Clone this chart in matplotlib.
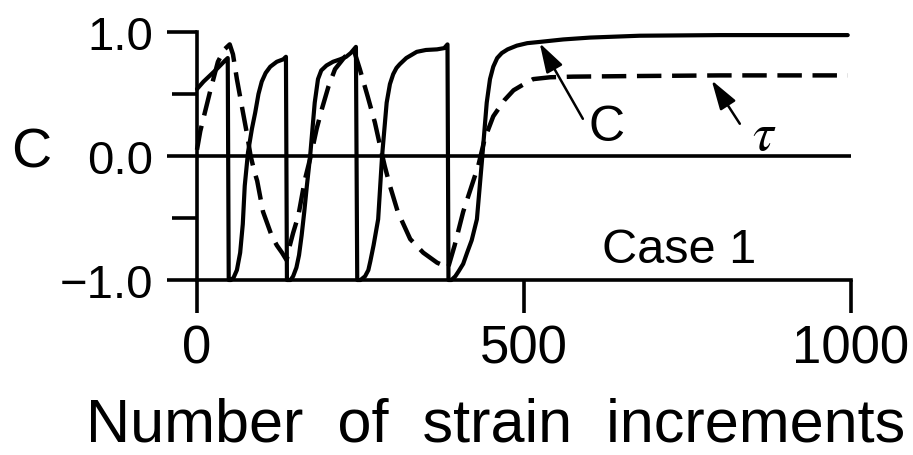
import matplotlib
matplotlib.use("Agg")
import matplotlib.pyplot as plt
from matplotlib import font_manager

# Stress-like response C and shear stress tau versus strain increments (Case 1)
c_x = [0, 10, 20, 30, 43, 47, 48.5, 52, 56, 61, 66, 70, 73, 78, 84, 89, 94,
       99, 105, 112, 122, 132, 136,
       137.5, 143, 147, 152, 156, 160, 164, 168, 173, 180, 185, 190, 198, 208,
       219, 228, 235, 243,
       245, 250, 257, 262, 265, 270, 277, 283, 290, 295, 300, 305, 310, 320,
       336, 350, 367, 378, 383,
       384.5, 389, 395, 400, 407, 413, 420, 428, 436, 443, 448, 453, 459, 466,
       475, 489, 505, 524, 560, 601, 677, 800, 995]
c_y = [0.54, 0.60, 0.65, 0.70, 0.77, 0.79, -1.0, -1.0, -0.98, -0.92, -0.78,
       -0.55, -0.24, 0.03, 0.22, 0.35, 0.50, 0.60, 0.67, 0.72, 0.76, 0.78,
       0.80,
       -1.0, -1.0, -0.97, -0.90, -0.80, -0.64, -0.45, -0.24, 0.0, 0.43, 0.62,
       0.69, 0.73, 0.76, 0.78, 0.80, 0.83, 0.88,
       -1.0, -1.0, -0.97, -0.92, -0.85, -0.72, -0.51, 0.0, 0.43, 0.58, 0.66,
       0.71, 0.74, 0.79, 0.84, 0.855, 0.86, 0.87, 0.90,
       -1.0, -1.0, -0.97, -0.93, -0.87, -0.78, -0.68, -0.51, -0.02, 0.43,
       0.62, 0.72, 0.79, 0.83, 0.86, 0.89, 0.91, 0.92, 0.94, 0.955, 0.97,
       0.975, 0.975]

tau_x = [0, 5, 12, 20, 32, 42, 50, 55, 61, 70, 76, 82, 88, 92, 101, 114, 122,
         130, 137, 142, 147, 155, 165, 174, 183, 191, 201, 211, 226, 240, 249,
         261, 272, 280, 287, 295, 307, 326, 346, 367, 384, 394, 407, 420, 430,
         440, 453, 470, 484, 500, 514, 540, 575, 673, 800, 995]
tau_y = [0.05, 0.20, 0.35, 0.52, 0.76, 0.86, 0.90, 0.82, 0.62, 0.36, 0.19,
         0.0, -0.13, -0.20, -0.45, -0.64, -0.72, -0.78, -0.84, -0.72, -0.62,
         -0.48, -0.19, 0.0, 0.22, 0.38, 0.56, 0.70, 0.80, 0.85, 0.70, 0.48,
         0.27, 0.08, -0.08, -0.24, -0.45, -0.67, -0.78, -0.86, -0.90, -0.72,
         -0.45, -0.24, -0.08, 0.14, 0.32, 0.45, 0.53, 0.58, 0.62, 0.635, 0.64,
         0.645, 0.65, 0.65]

x_ticks = [0, 500, 1000]
x_tick_labels = ["0", "500", "1000"]
y_ticks = [-1.0, 0.0, 1.0]
y_tick_labels = ["\u22121.0", "0.0", "1.0"]
y_minor_ticks = [-0.5, 0.5]


def pick(*names):
    for n in names:
        try:
            font_manager.findfont(n, fallback_to_default=False)
            return n
        except ValueError:
            pass
    return "DejaVu Sans"


sans = pick("Liberation Sans", "Arial", "DejaVu Sans")

plt.rcParams["font.family"] = [sans, "DejaVu Sans"]

LW = 2.6
fig = plt.figure(figsize=(9.13, 4.56), dpi=100)
ax = fig.add_axes([197 / 913, 175 / 456, 654 / 913, 248 / 456])

ax.plot(c_x, c_y, color="k", lw=3.0, solid_joinstyle="round",
        solid_capstyle="round", clip_on=False)
ax.plot(tau_x, tau_y, color="k", lw=3.2, linestyle=(0, (5.5, 2.4)),
        dash_capstyle="butt", clip_on=False)
ax.axhline(0.0, color="k", lw=LW)

ax.set_xlim(0, 1000)
ax.set_ylim(-1, 1)

for side in ("top", "right"):
    ax.spines[side].set_visible(False)
for side in ("left", "bottom"):
    ax.spines[side].set_linewidth(LW)

ax.set_xticks(x_ticks)
ax.set_xticklabels(x_tick_labels, fontsize=38)
ax.set_yticks(y_ticks)
ax.set_yticklabels(y_tick_labels, fontsize=34)
ax.set_yticks(y_minor_ticks, minor=True)
ax.tick_params(axis="x", direction="out", length=24, width=LW, pad=7)
ax.tick_params(axis="y", which="major", direction="out", length=21.5,
               width=LW, pad=10)
ax.tick_params(axis="y", which="minor", direction="out", length=18, width=LW)

# axis titles
fig.text(31 / 913, 1 - 153 / 456, "C", fontsize=40, ha="center", va="center")
fig.text(496 / 913, (456 - 442) / 456, "Number  of  strain  increments",
         fontsize=44, ha="center", va="baseline")

# curve labels with pointers
arrow = dict(arrowstyle="-|>,head_length=0.9,head_width=0.28", lw=1.8,
             color="k", mutation_scale=20, shrinkA=0, shrinkB=0)
ax.annotate("", xy=(524, 0.91), xytext=(590, 0.30), arrowprops=arrow)
ax.text(627, 0.234, "C", fontsize=36, ha="center", va="center")
ax.annotate("", xy=(787, 0.61), xytext=(830, 0.26), arrowprops=arrow)
ax.text(868, 0.17, r"$\tau$", fontsize=38, ha="center", va="center",
        math_fontfamily="stix")

ax.text(619, -0.855, "Case 1", fontsize=35, ha="left", va="baseline")

fig.savefig("out.png", dpi=100)
